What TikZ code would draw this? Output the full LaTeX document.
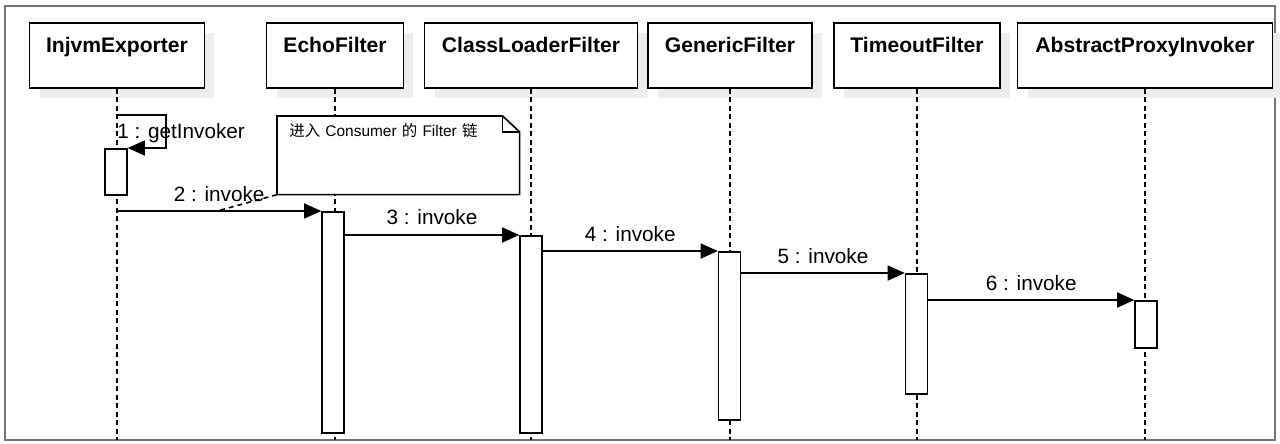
\documentclass[tikz,border=0pt]{standalone}
\usepackage{fontspec}
\setmainfont{Liberation Sans}
\newfontfamily\cjk{Noto Sans CJK SC}
\usetikzlibrary{arrows.meta,shadows,calc}
\tikzset{
    head-box/.style = {draw=black, fill=white, line width=1pt, rectangle, inner sep=0pt, text height=0.58cm, text depth=0.72cm, font=\fontsize{12}{14}\selectfont\bfseries, drop shadow={shadow xshift=0.2cm, shadow yshift=-0.2cm, fill=black!7, opacity=1}},
    act-box/.style = {draw=black, fill=white, line width=0.9pt, rectangle, anchor=north, minimum width=0.44cm, inner sep=0pt},
    life-line/.style = {draw=black, line width=0.9pt, dash pattern=on 0.1cm off 0.07cm},
    msg-arrow/.style = {draw=black, line width=0.9pt, -{Triangle[length=0.34cm, width=0.3cm]}},
    msg-label/.style = {inner sep=0pt, font=\fontsize{11.8}{14}\selectfont},
    note-box/.style = {inner xsep=0.24cm, inner ysep=0pt, text width=4.36cm, align=left, text height=0.4cm, text depth=1.16cm, font=\fontsize{8.8}{11}\selectfont},
    note-line/.style = {draw=black, fill=white, line width=0.9pt},
    note-link/.style = {draw=black, line width=0.9pt, dash pattern=on 0.1cm off 0.08cm},
}
\begin{document}
\begin{tikzpicture}[x=0.02cm, y=-0.02cm]
\useasboundingbox (0,0) rectangle (1280,443);
\draw[black!55, line width=0.9pt] (5,6) rectangle (1275,440);
\coordinate (bottom) at (0,440);

% lifeline heads
\node[head-box, minimum width=3.5cm] (injvm) at (117,55.5) {InjvmExporter};
\node[head-box, minimum width=2.74cm] (echo) at (335,55.5) {EchoFilter};
\node[head-box, minimum width=4.26cm] (loader) at (531,55.5) {ClassLoaderFilter};
\node[head-box, minimum width=3.28cm] (generic) at (730,55.5) {GenericFilter};
\node[head-box, minimum width=3.32cm] (timeout) at (917,55.5) {TimeoutFilter};
\node[head-box, minimum width=5.1cm] (proxy) at (1145,55.5) {AbstractProxyInvoker};

\draw[life-line] (injvm.south) -- (injvm.south |- bottom);
\draw[life-line] (echo.south) -- (echo.south |- bottom);
\draw[life-line] (loader.south) -- (loader.south |- bottom);
\draw[life-line] (generic.south) -- (generic.south |- bottom);
\draw[life-line] (timeout.south) -- (timeout.south |- bottom);
\draw[life-line] (proxy.south) -- (proxy.south |- bottom);

% activations
\node[act-box, minimum height=0.92cm] (injvm-act) at (116,148) {};
\node[act-box, minimum height=4.42cm] (echo-act) at (333,211) {};
\node[act-box, minimum height=3.94cm] (loader-act) at (531,235) {};
\node[act-box, minimum height=3.36cm] (generic-act) at (729.5,251) {};
\node[act-box, minimum height=2.4cm] (timeout-act) at (916.5,273) {};
\node[act-box, minimum height=0.94cm] (proxy-act) at (1146,300) {};

% messages
\coordinate (self-top) at (117,115);
\draw[msg-arrow] (self-top) -- ++(49,0) |- (injvm-act.north east);
\node[msg-label, anchor=base west] (m1-label) at (117,138) {1 : getInvoker};
\draw[msg-arrow] (injvm.south |- echo-act.north) -- coordinate[pos=0.49] (m2-mid) node[msg-label, above=0.18cm] (m2-label) {2 : invoke} (echo-act.north west);
\draw[msg-arrow] (echo-act.east |- loader-act.north) -- node[msg-label, above=0.2cm] (m3-label) {3 : invoke} (loader-act.north west);
\draw[msg-arrow] (loader-act.east |- generic-act.north) -- node[msg-label, above=0.18cm] (m4-label) {4 : invoke} (generic-act.north west);
\draw[msg-arrow] (generic-act.east |- timeout-act.north) -- node[msg-label, above=0.18cm] (m5-label) {5 : invoke} (timeout-act.north west);
\draw[msg-arrow] (timeout-act.east |- proxy-act.north) -- node[msg-label, above=0.18cm] (m6-label) {6 : invoke} (proxy-act.north west);

% note
\node[note-box, anchor=north west] (note) at (277,116) {};
\draw[note-line] (note.north west) -- ($(note.north east)+(-17,0)$) -- ($(note.north east)+(0,16)$) -- (note.south east) -- (note.south west) -- cycle;
\draw[note-line, fill=none] ($(note.north east)+(-17,0)$) -- ($(note.north east)+(-17,16)$) -- ($(note.north east)+(0,16)$);
\node[note-box, anchor=north west] (note-text) at (note.north west) {{\cjk 进入} Consumer {\cjk 的} Filter {\cjk 链}};
\draw[note-link] (note.south west) -- (m2-mid);
\end{tikzpicture}
\end{document}
